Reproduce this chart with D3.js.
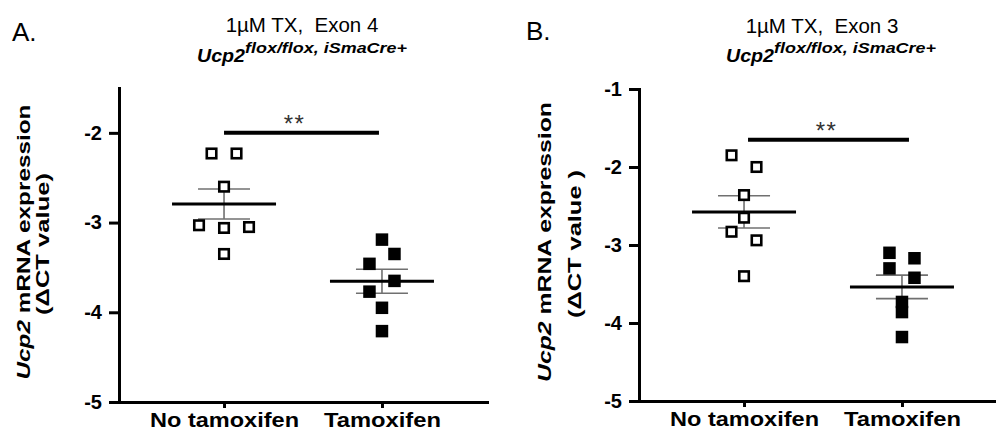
<!DOCTYPE html>
<html>
<head>
<meta charset="utf-8">
<script src="https://cdn.jsdelivr.net/npm/d3@7"></script>
<style>
  body { margin: 0; background: #fff; }
  svg { display: block; font-family: "Liberation Sans", Arial, Helvetica, sans-serif; }
</style>
</head>
<body>
<svg id="chart" width="996" height="437"></svg>
<script>
// values (delta CT)
const categories = ["No tamoxifen", "Tamoxifen"];
const panelLetters = ["A.", "B."];
const titles = ["1µM TX,  Exon 4", "1µM TX,  Exon 3"];
const geneName = "Ucp2";
const genotype = "flox/flox, iSmaCre+";
const yLabelLine1 = " mRNA expression";
const yLabelLine2 = ["(ΔCT value)", "(ΔCT value )"];
const yDomains = [[-5, -1.5], [-5, -1]];
const yTicks = [[-2, -3, -4, -5], [-1, -2, -3, -4, -5]];

const exon4NoTam = [-2.23, -2.23, -2.60, -3.03, -3.06, -3.05, -3.35];
const exon4Tam   = [-3.19, -3.35, -3.46, -3.65, -3.77, -3.95, -4.21];
const exon3NoTam = [-1.85, -2.00, -2.36, -2.65, -2.83, -2.94, -3.40];
const exon3Tam   = [-3.10, -3.17, -3.30, -3.42, -3.73, -3.86, -4.18];

const sigBarY = [-2.0, -1.65];
const sigLabel = "**";

// horizontal spread of overlapping points (slot index, GraphPad-style scatter)
const spreadSlots = [
  [[-1, 1, 0, -2, 0, 2, 0], [0, 1, -1, 1, -1, 0, 0]],
  [[-1, 1, 0, 0, -1, 1, 0], [-1, 1, -1, 1, 0, 0, 0]]
];

const groups = [[exon4NoTam, exon4Tam], [exon3NoTam, exon3Tam]];

// layout per panel
const layout = [
  { axisX: 119, yPx: [402, 88], titleX: 302, titleY: 32, subX: 197, subY: 62,
    letterX: 12, letterY: 41, lab1: [30, 242, 275], lab2: [49, 244, 142],
    barOff: [0, -3], starDx: -7 },
  { axisX: 639, yPx: [401, 89], titleX: 822, titleY: 33, subX: 726, subY: 62,
    letterX: 526, letterY: 40, lab1: [551, 242, 280], lab2: [581, 244, 148],
    barOff: [4, 7], starDx: -2 }
];

const plotW = 368;
const slotW = 12.5;
const svg = d3.select("#chart");

layout.forEach((L, p) => {
  const g = svg.append("g");

  const x = d3.scalePoint().domain(categories)
    .range([L.axisX, L.axisX + plotW]).padding(0.665);
  const y = d3.scaleLinear().domain(yDomains[p]).range(L.yPx);
  const yBottom = L.yPx[0];

  // panel letter + titles
  g.append("text").attr("x", L.letterX).attr("y", L.letterY)
    .attr("font-size", 26).text(panelLetters[p]);

  g.append("text").attr("x", L.titleX).attr("y", L.titleY)
    .attr("text-anchor", "middle").attr("font-size", 20.5)
    .style("white-space", "pre").text(titles[p]);

  const sub = g.append("text").attr("x", L.subX).attr("y", L.subY)
    .attr("font-weight", "bold").attr("font-style", "italic");
  sub.append("tspan").attr("font-size", 19)
    .attr("textLength", 48).attr("lengthAdjust", "spacingAndGlyphs").text(geneName);
  sub.append("tspan").attr("font-size", 15.5).attr("dy", -9)
    .attr("textLength", 162).attr("lengthAdjust", "spacingAndGlyphs").text(genotype);

  // y axis label (two lines)
  const t1 = g.append("text")
    .attr("transform", `translate(${L.lab1[0]},${L.lab1[1]}) rotate(-90)`)
    .attr("text-anchor", "middle").attr("font-size", 19).attr("font-weight", "bold")
    .attr("textLength", L.lab1[2]).attr("lengthAdjust", "spacingAndGlyphs");
  t1.append("tspan").attr("font-style", "italic").text(geneName);
  t1.append("tspan").style("white-space", "pre").text(yLabelLine1);

  g.append("text")
    .attr("transform", `translate(${L.lab2[0]},${L.lab2[1]}) rotate(-90)`)
    .attr("text-anchor", "middle").attr("font-size", 19).attr("font-weight", "bold")
    .attr("textLength", L.lab2[2]).attr("lengthAdjust", "spacingAndGlyphs")
    .text(yLabelLine2[p]);

  // axes
  const yAxis = g.append("g").attr("transform", `translate(${L.axisX},0)`)
    .call(d3.axisLeft(y).tickValues(yTicks[p]).tickSize(10).tickPadding(7)
      .tickSizeOuter(0).tickFormat(d => String(d)));
  const xAxis = g.append("g").attr("transform", `translate(0,${yBottom})`)
    .call(d3.axisBottom(x).tickSize(6).tickPadding(4).tickSizeOuter(0));

  [yAxis, xAxis].forEach(a => {
    a.attr("font-family", null).attr("font-size", null);
    a.select(".domain").attr("stroke", "#000").attr("stroke-width", 3)
      .attr("stroke-linecap", "square");
    a.selectAll(".tick line").attr("stroke", "#000").attr("stroke-width", 3);
    a.selectAll(".tick text").attr("fill", "#000").style("font-weight", "bold");
  });
  yAxis.selectAll(".tick text").attr("font-size", 20);
  xAxis.selectAll(".tick text").attr("font-size", 21)
    .attr("textLength", d => d === "Tamoxifen" ? 117 : 149)
    .attr("lengthAdjust", "spacingAndGlyphs");

  // mean ± SEM
  const stats = groups[p].map((vals, i) => ({
    cat: categories[i],
    mean: d3.mean(vals),
    sem: d3.deviation(vals) / Math.sqrt(vals.length)
  }));

  const err = g.append("g").attr("stroke", "#707070").attr("stroke-width", 1.6);
  stats.forEach(s => {
    const cx = x(s.cat);
    err.append("line").attr("x1", cx).attr("x2", cx)
      .attr("y1", y(s.mean + s.sem)).attr("y2", y(s.mean - s.sem));
    [s.mean + s.sem, s.mean - s.sem].forEach(v => {
      err.append("line").attr("x1", cx - 26).attr("x2", cx + 26)
        .attr("y1", y(v)).attr("y2", y(v));
    });
  });
  g.append("g").selectAll("line").data(stats).join("line")
    .attr("x1", d => x(d.cat) - 52).attr("x2", d => x(d.cat) + 52)
    .attr("y1", d => y(d.mean)).attr("y2", d => y(d.mean))
    .attr("stroke", "#000").attr("stroke-width", 3);

  // points
  groups[p].forEach((vals, i) => {
    const open = i === 0;
    const sz = open ? 9.5 : 12.5;
    g.append("g").selectAll("rect")
      .data(vals.map((v, j) => ({ v, slot: spreadSlots[p][i][j] })))
      .join("rect")
      .attr("x", d => x(categories[i]) + d.slot * slotW - sz / 2)
      .attr("y", d => y(d.v) - sz / 2)
      .attr("width", sz).attr("height", sz)
      .attr("fill", open ? "#fff" : "#000")
      .attr("stroke", open ? "#000" : "none")
      .attr("stroke-width", 2.6);
  });

  // significance bar
  const bx1 = x(categories[0]) + L.barOff[0];
  const bx2 = x(categories[1]) + L.barOff[1];
  const by = y(sigBarY[p]);
  g.append("line").attr("x1", bx1).attr("x2", bx2).attr("y1", by).attr("y2", by)
    .attr("stroke", "#000").attr("stroke-width", 4);
  g.append("text").attr("x", (bx1 + bx2) / 2 + L.starDx).attr("y", by - 1)
    .attr("text-anchor", "middle").attr("font-size", 24).attr("fill", "#333")
    .attr("letter-spacing", 1.5).text(sigLabel);
});
</script>
</body>
</html>
